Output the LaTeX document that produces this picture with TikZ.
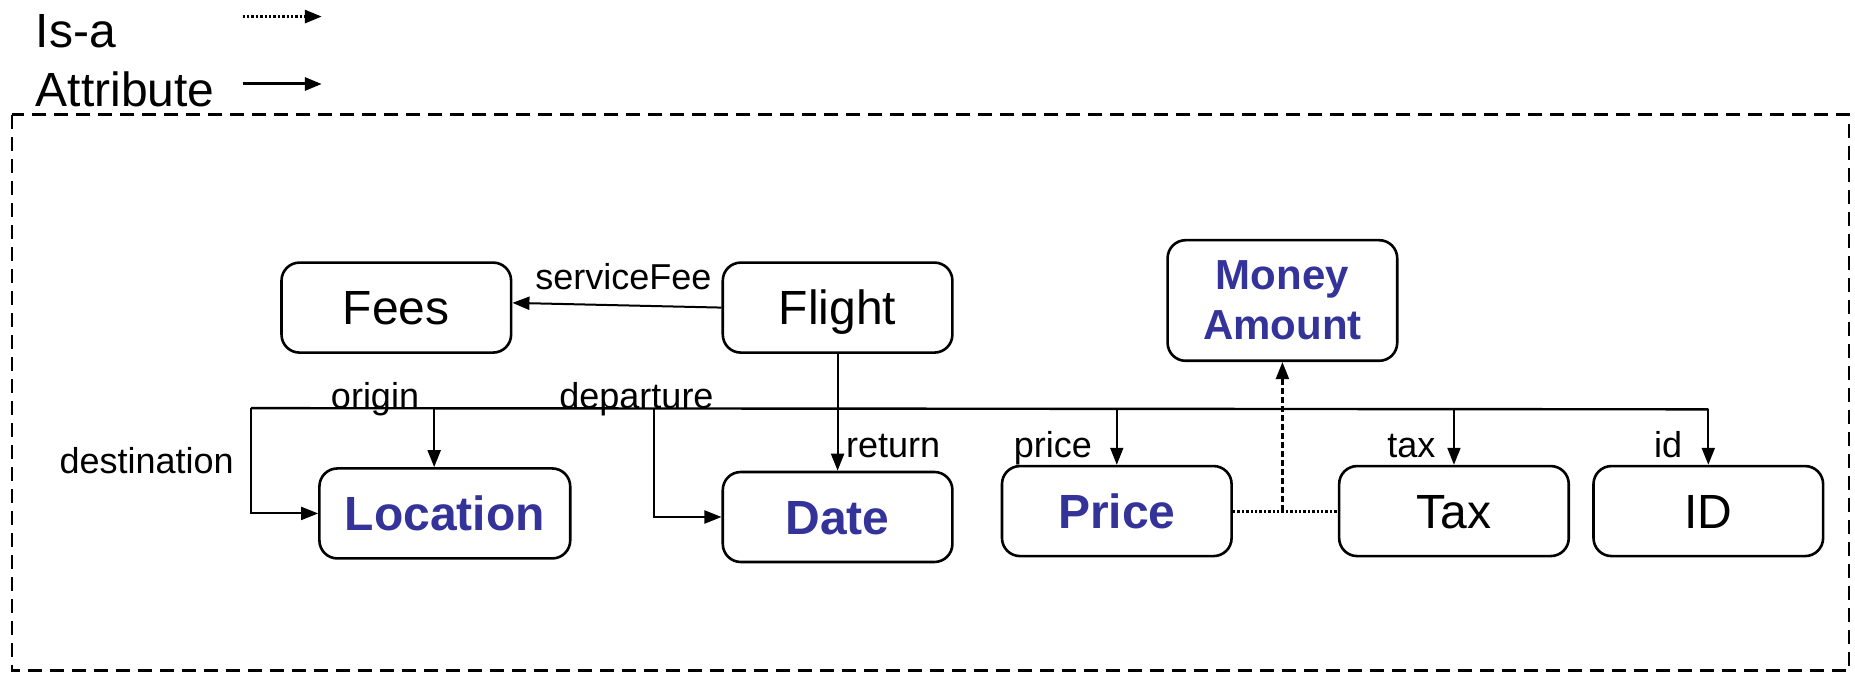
\documentclass[tikz,border=0pt]{standalone}
\usepackage{fontspec}
\setmainfont{Liberation Sans}
\usetikzlibrary{arrows.meta,calc}
\definecolor{conceptblue}{RGB}{51,51,153}
\begin{document}
\begin{tikzpicture}[x=0.5915pt,y=-0.5915pt,
  box/.style={draw,line width=1.3pt,rounded corners=9pt,minimum width=114.8pt,
    minimum height=45pt,inner sep=0pt,text height=17.2pt,text depth=0pt,
    font=\fontsize{24}{28}\selectfont},
  concept/.style={box,text=conceptblue,font=\bfseries\fontsize{24}{28}\selectfont},
  tip/.style={-{Triangle[length=8.5pt,width=6.5pt]}},
  attr/.style={line width=1pt,tip},
  isaline/.style={line width=1.5pt,dash pattern=on 1.2pt off 1pt},
  lbl/.style={font=\fontsize{18}{20}\selectfont,anchor=base,inner sep=0pt},
  legend/.style={font=\fontsize{24}{28}\selectfont,anchor=base west,inner sep=0pt}]
\useasboundingbox (0,0) rectangle (1568,569);

% legend
\node[legend] (isalbl) at (30,40) {Is-a};
\node[legend] (attrlbl) at (30,90) {Attribute};
\coordinate (isaA) at (205,14);
\coordinate (isaB) at (272,14);
\coordinate (attA) at (205,71);
\coordinate (attB) at (272,71);
\draw[isaline,tip] (isaA) -- (isaB);
\draw[line width=1.5pt,tip] (attA) -- (attB);

% frame
\draw[line width=1.3pt,dash pattern=on 7pt off 4pt] (10,97) rectangle (1563,567);

% concepts
\node[box] (fees) at (335,260) {Fees};
\node[box] (flight) at (708,260) {Flight};
\node[concept,minimum height=60.3pt,align=center,text height=,text depth=,
  font=\bfseries\fontsize{21}{25}\selectfont] (money) at (1084,254) {Money\\Amount};
\node[concept,minimum width=125.4pt] (location) at (376,434) {Location};
\node[concept] (date) at (708,437) {Date};
\node[concept] (price) at (944,432) {Price};
\node[box] (tax) at (1229,432) {Tax};
\node[box] (id) at (1444,432) {ID};

% attribute bus
\coordinate (busL) at (212,345);
\coordinate (busR) at (1444,346);
\coordinate (orgT) at (367,345);
\coordinate (depT) at (553,345);
\draw[line width=1.2pt] (busL) -- (busR);
\draw[attr] (flight.south) -- (date.north);
\draw[attr] (busL) |- (location.west);
\draw[attr] (orgT) -- (orgT |- location.north);
\draw[attr] (depT) |- (date.west);
\draw[attr] (price.north |- busR) -- (price.north);
\draw[attr] (tax.north |- busR) -- (tax.north);
\draw[attr] (busR) -- (id.north);
\draw[attr] (flight.west) -- ($(fees.east)+(0,-4)$);

% is-a links
\coordinate (isaJ) at (money.south |- price.east);
\draw[isaline] (price.east) -- (tax.west);
\draw[line width=1.1pt,dash pattern=on 3pt off 1.5pt,tip] (isaJ) -- (money.south);

% labels
\node[lbl] (lsf) at (527,245) {serviceFee};
\node[lbl] (lor) at (317,345) {origin};
\node[lbl] (lde) at (538,345) {departure};
\node[lbl] (lds) at (124,400) {destination};
\node[lbl] (lre) at (755,387) {return};
\node[lbl] (lpr) at (890,387) {price};
\node[lbl] (ltx) at (1193,387) {tax};
\node[lbl] (lid) at (1410,387) {id};
\end{tikzpicture}
\end{document}
